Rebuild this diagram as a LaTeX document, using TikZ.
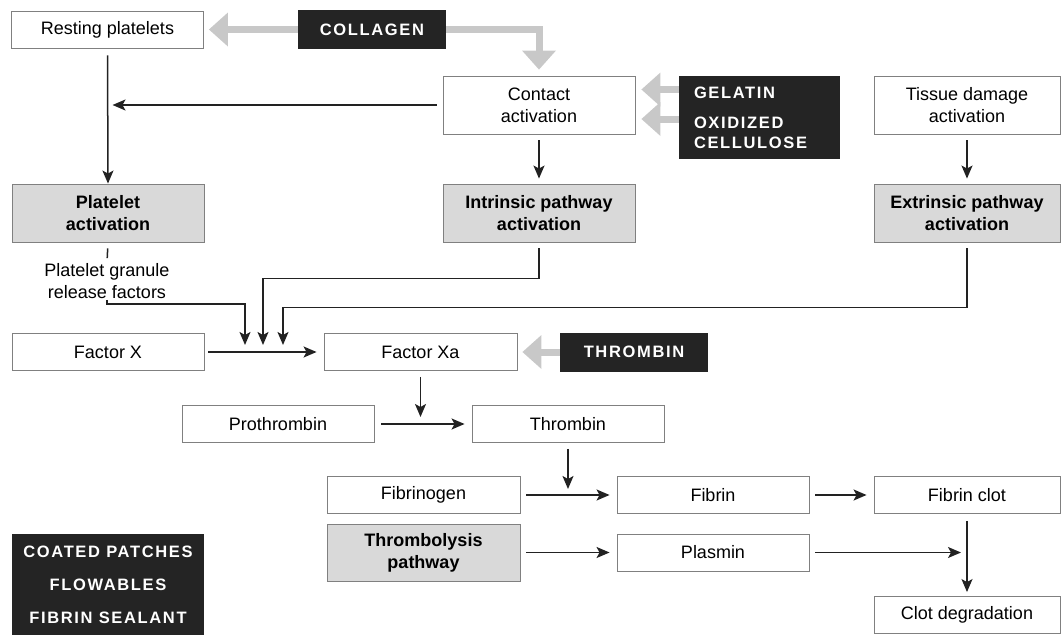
\documentclass[tikz,border=0pt]{standalone}
\usepackage{fontspec}
\setmainfont{Liberation Sans}
\usetikzlibrary{arrows.meta}
\definecolor{boxline}{HTML}{808080}
\definecolor{boxgray}{HTML}{D9D9D9}
\definecolor{agentblack}{HTML}{242424}
\definecolor{linedark}{HTML}{222222}
\definecolor{fatgray}{HTML}{C8C8C8}

\begin{document}
\begin{tikzpicture}[x=1pt, y=-1pt,
    box/.style={draw=boxline, fill=white, line width=0.9pt, minimum width=192pt, minimum height=37pt,
        inner sep=2pt, align=center, font=\fontsize{18}{22}\selectfont},
    graybox/.style={box, fill=boxgray, minimum height=58pt, font=\fontsize{18}{22}\selectfont\bfseries},
    agent/.style={fill=agentblack, text=white, minimum width=148pt, minimum height=39pt, inner sep=2pt,
        align=center, font=\fontsize{16.5}{20}\selectfont\bfseries\addfontfeature{LetterSpace=10}},
    arr/.style={draw=linedark, line width=1.5pt, -{Stealth[length=13pt,width=11pt,inset=3pt]}},
    fat/.style={draw=fatgray, line width=7pt, -{Triangle[length=19pt,width=34pt,line width=0pt]}}]
\useasboundingbox (0,0) rectangle (1061,635);

% top row
\node[box] (rest) at (107.5,29.5) {Resting platelets};
\node[agent] (collagen) at (372,29.5) {COLLAGEN};
\node[box, minimum height=58pt] (contact) at (539,105) {Contact\\activation};
\node[agent, minimum width=161pt, minimum height=83pt, text width=131pt, align=left] (gelatin) at (759.5,117.5)
    {GELATIN\\[10pt]OXIDIZED\\CELLULOSE};
\node[box, minimum width=186pt, minimum height=58pt] (tissue) at (967,105) {Tissue damage\\activation};

% pathways
\node[graybox] (plat) at (108,213) {Platelet\\activation};
\node[graybox] (intr) at (539,213) {Intrinsic pathway\\activation};
\node[graybox, minimum width=186pt] (extr) at (967,213) {Extrinsic pathway\\activation};
\node[align=center, inner sep=1pt, font=\fontsize{18}{22}\selectfont] (granule) at (107,281)
    {Platelet granule\\release factors};

% cascade
\node[box] (facX) at (108,352) {Factor X};
\node[box, minimum width=193pt] (facXa) at (420.5,352) {Factor Xa};
\node[agent] (thrbox) at (634,352) {THROMBIN};
\node[box] (proth) at (278,424) {Prothrombin};
\node[box] (thromb) at (568,424) {Thrombin};
\node[box, minimum width=193pt] (fibgen) at (423.5,495) {Fibrinogen};
\node[graybox, minimum width=193pt, minimum height=57pt] (lysis) at (423.5,552.5) {Thrombolysis\\pathway};
\node[box] (fibrin) at (713,495) {Fibrin};
\node[box] (plasmin) at (713,552.5) {Plasmin};
\node[box, minimum width=186pt] (clot) at (967,495) {Fibrin clot};
\node[box, minimum width=186pt] (degr) at (967,615) {Clot degradation};
\node[agent, minimum width=192pt, minimum height=101pt] (coated) at (108,584.5)
    {COATED PATCHES\\[13pt]FLOWABLES\\[13pt]FIBRIN SEALANT};

% gray agent arrows
\draw[fat, shorten >=5pt] (collagen.west) -- (rest.east);
\draw[fat, shorten >=6pt] (collagen.east) -| (contact.north);
\coordinate (gelA) at ([yshift=28pt]gelatin.west);
\coordinate (gelB) at ([yshift=-1.5pt]gelatin.west);
\draw[fat, shorten >=6pt] (gelA) -- (gelA -| contact.east);
\draw[fat, shorten >=6pt] (gelB) -- (gelB -| contact.east);
\draw[fat, shorten >=5pt] (thrbox.west) -- (facXa.east);

% activation arrows
\draw[arr, shorten <=7pt] (rest.south) -- (plat.north);
\draw[arr, shorten <=6pt, shorten >=5pt] (contact.west) -- (rest.south |- contact.west);
\draw[arr, shorten <=6pt, shorten >=5pt] (contact.south) -- (intr.north);
\draw[arr, shorten <=6pt, shorten >=5pt] (tissue.south) -- (extr.north);
\draw[draw=linedark, line width=1.5pt, shorten <=6pt, shorten >=4pt] (plat.south) -- (granule.north);

\coordinate (inA) at (245,345);
\coordinate (inB) at (263,345);
\coordinate (inC) at (283,345);
\draw[arr] (granule.south) -- ++(0,4) -| (inA);
\draw[arr, shorten <=6pt] (intr.south) -- ++(0,36) -| (inB);
\draw[arr, shorten <=6pt] (extr.south) -- ++(0,65) -| (inC);

\draw[arr, shorten <=4pt, shorten >=7pt] (facX.east) -- (facXa.west);
\draw[arr, shorten <=6pt, shorten >=7pt] (facXa.south) -- (facXa.south |- proth.east);
\draw[arr, shorten <=7pt, shorten >=7pt] (proth.east) -- (thromb.west);
\draw[arr, shorten <=6pt, shorten >=6pt] (thromb.south) -- (thromb.south |- fibgen.east);
\draw[arr, shorten <=6pt, shorten >=7pt] (fibgen.east) -- (fibrin.west);
\draw[arr, shorten <=6pt, shorten >=7pt] (lysis.east) -- (plasmin.west);
\draw[arr, shorten <=6pt, shorten >=7pt] (fibrin.east) -- (clot.west);
\draw[arr, shorten <=7pt, shorten >=4pt] (clot.south) -- (degr.north);
\draw[arr, shorten <=6pt, shorten >=6pt] (plasmin.east) -- (plasmin.east -| clot.south);
\end{tikzpicture}
\end{document}
